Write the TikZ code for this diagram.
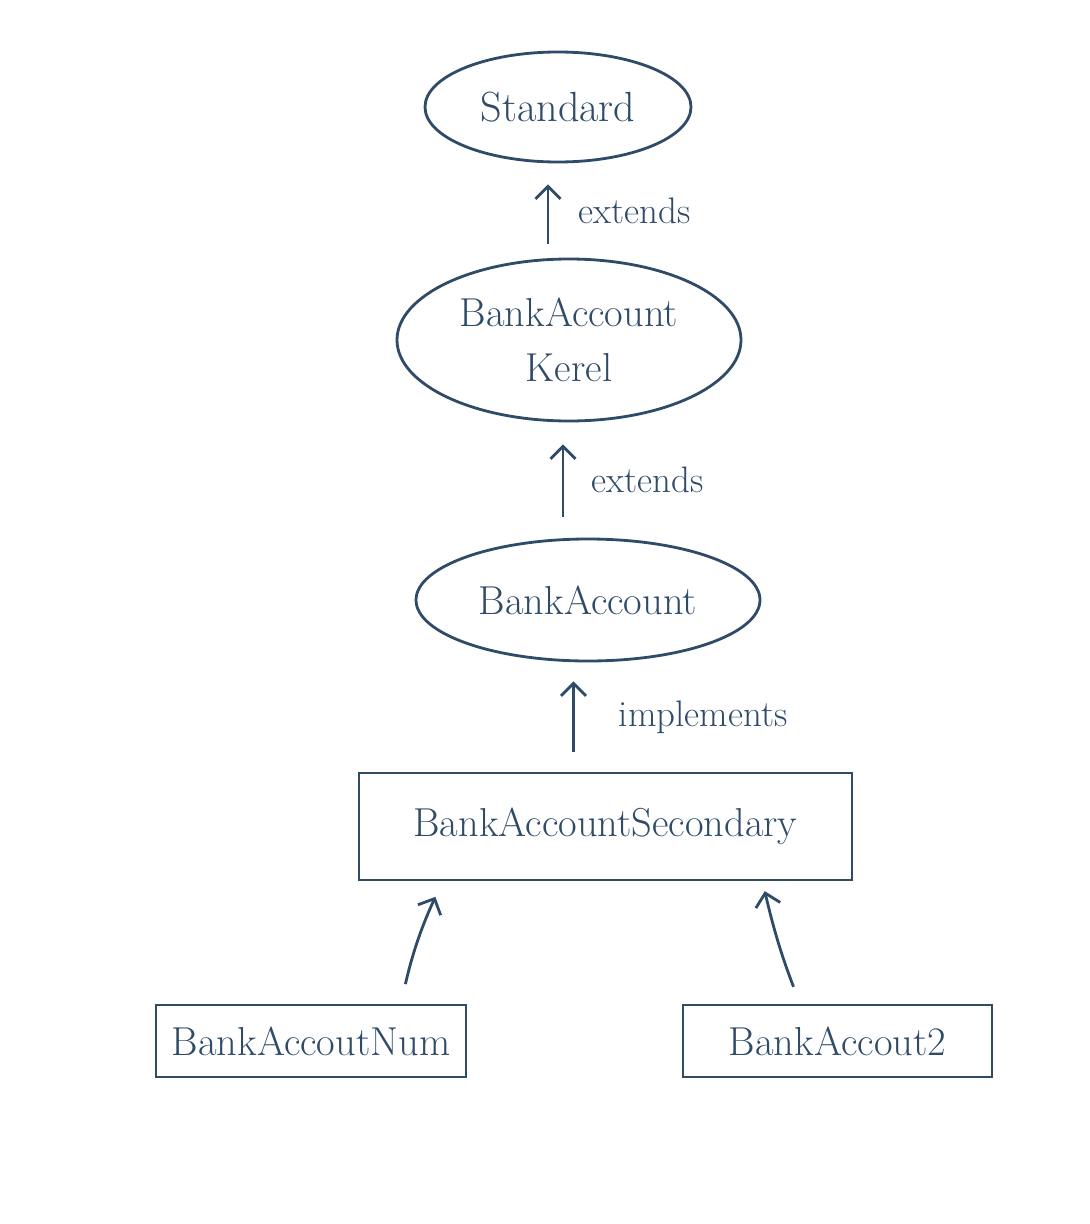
\documentclass[tikz,border=0pt]{standalone}
\usepackage{tikz}
\usetikzlibrary{arrows.meta,positioning,shapes.geometric}
\definecolor{ink}{HTML}{2F4B68}
\tikzset{
  cls/.style={draw=ink, ellipse, line width=1.6pt, align=center, text=ink, font=\fontsize{23}{31}\selectfont},
  box/.style={draw=ink, rectangle, line width=1.6pt, align=center, text=ink, font=\fontsize{23}{31}\selectfont},
  arrow/.style={-{Straight Barb[length=2.5mm,width=5mm]}, draw=ink, line width=1.6pt},
  lbl/.style={text=ink, font=\fontsize{21}{26}\selectfont, inner sep=0pt}
}
\begin{document}
\begin{tikzpicture}[x=1cm,y=1cm]
  \useasboundingbox (0,0) rectangle (21.8,-24.48);

  \node[cls, minimum width=5.32cm, minimum height=2.2cm] (std) at (11.16,-2.14) {\fontsize{24}{30}\selectfont Standard};
  \node[cls, minimum width=6.88cm, minimum height=3.24cm] (kernel) at (11.38,-6.80) {BankAccount\\Kerel};
  \node[cls, minimum width=6.88cm, minimum height=2.44cm] (acct) at (11.76,-12.0) {BankAccount};
  \node[box, minimum width=9.86cm, minimum height=2.14cm] (sec) at (12.11,-16.53) {BankAccountSecondary};
  \node[box, minimum width=6.2cm, minimum height=1.44cm] (num) at (6.22,-20.82) {BankAccoutNum};
  \node[box, minimum width=6.18cm, minimum height=1.44cm] (two) at (16.75,-20.82) {BankAccout2};

  \draw[arrow, shorten <=0.28cm, shorten >=0.42cm] ([xshift=-4.2mm]kernel.north) -- ([xshift=-4.2mm]kernel.north |- std.south)
    node[lbl, midway, right=0.58cm] {extends};
  \draw[arrow, shorten <=0.42cm, shorten >=0.44cm] ([xshift=-5mm]acct.north) -- ([xshift=-5mm]acct.north |- kernel.south)
    node[lbl, midway, right=0.54cm] {extends};
  \draw[arrow, shorten <=0.4cm, shorten >=0.38cm] ([xshift=-6.4mm]sec.north) -- ([xshift=-6.4mm]sec.north |- acct.south)
    node[lbl, midway, right=0.88cm] {implements};
  \draw[arrow, shorten <=0.4cm, shorten >=0.34cm] ([xshift=1.8cm]num.north) to[bend left=6] ([xshift=-3.26cm]sec.south);
  \draw[arrow, shorten <=0.36cm, shorten >=0.2cm] ([xshift=-0.75cm]two.north) to[bend left=4] ([xshift=3.14cm]sec.south);
\end{tikzpicture}
\end{document}
